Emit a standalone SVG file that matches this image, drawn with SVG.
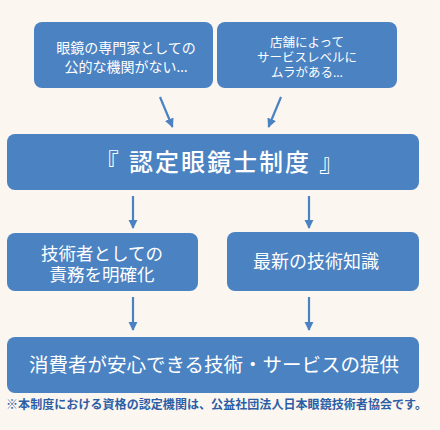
<svg xmlns="http://www.w3.org/2000/svg" width="440" height="430" viewBox="0 0 440 430">
<defs>
<style>
.box{fill:#4a82c2;}
.t{fill:#ffffff;font-family:"Noto Sans","Noto Sans CJK JP","Noto Sans CJK SC",sans-serif;text-anchor:middle;}
.c{stroke:#4a82c2;stroke-width:2.2;fill:none;}
.note{fill:#2c5ea6;font-family:"Noto Sans CJK JP","Noto Sans CJK SC",sans-serif;font-weight:bold;font-size:12px;}
</style>
<marker id="ah" viewBox="0 0 10 10" refX="9" refY="5" markerWidth="4.2" markerHeight="4.2" orient="auto" markerUnits="strokeWidth">
<path d="M0,0 L10,5 L0,10 z" fill="#4a82c2"/>
</marker>
</defs>
<rect x="0" y="0" width="440" height="430" fill="#fcf6f0"/>
<g id="connectors">
<line class="c" x1="160" y1="97" x2="172.5" y2="127" marker-end="url(#ah)"/>
<line class="c" x1="281" y1="97" x2="268.5" y2="127" marker-end="url(#ah)"/>
<line class="c" x1="133" y1="196" x2="133" y2="228" marker-end="url(#ah)"/>
<line class="c" x1="309" y1="196" x2="309" y2="228" marker-end="url(#ah)"/>
<line class="c" x1="133" y1="297" x2="133" y2="330" marker-end="url(#ah)"/>
<line class="c" x1="309" y1="297" x2="309" y2="330" marker-end="url(#ah)"/>
</g>
<g id="node-no-institution">
<rect class="box" x="34" y="22" width="179" height="66" rx="8"/>
<text class="t" font-size="14" x="126" y="53">眼鏡の専門家としての</text>
<text class="t" font-size="14" x="126" y="72">公的な機関がない…</text>
</g>
<g id="node-service-level">
<rect class="box" x="217" y="22" width="180" height="66" rx="8"/>
<text class="t" font-size="12.5" x="307" y="47">店舗によって</text>
<text class="t" font-size="12.5" x="307" y="62">サービスレベルに</text>
<text class="t" font-size="12.5" x="307" y="77">ムラがある…</text>
</g>
<g id="node-system">
<rect class="box" x="7" y="134" width="412" height="56" rx="8"/>
<text class="t" font-size="24" font-weight="500" letter-spacing="2" x="220" y="171">『 認定眼鏡士制度 』</text>
</g>
<g id="node-duty">
<rect class="box" x="7" y="233" width="191" height="58" rx="8"/>
<text class="t" font-size="17.5" x="102" y="260">技術者としての</text>
<text class="t" font-size="17.5" x="102" y="281">責務を明確化</text>
</g>
<g id="node-knowledge">
<rect class="box" x="227" y="232" width="192" height="59" rx="8"/>
<text class="t" font-size="18" x="316" y="268">最新の技術知識</text>
</g>
<g id="node-result">
<rect class="box" x="7" y="337" width="412" height="56" rx="8"/>
<text class="t" font-size="19.5" x="214" y="372">消費者が安心できる技術・サービスの提供</text>
</g>
<text class="note" x="6" y="409" textLength="421" lengthAdjust="spacing">※本制度における資格の認定機関は、公益社団法人日本眼鏡技術者協会です。</text>
</svg>
